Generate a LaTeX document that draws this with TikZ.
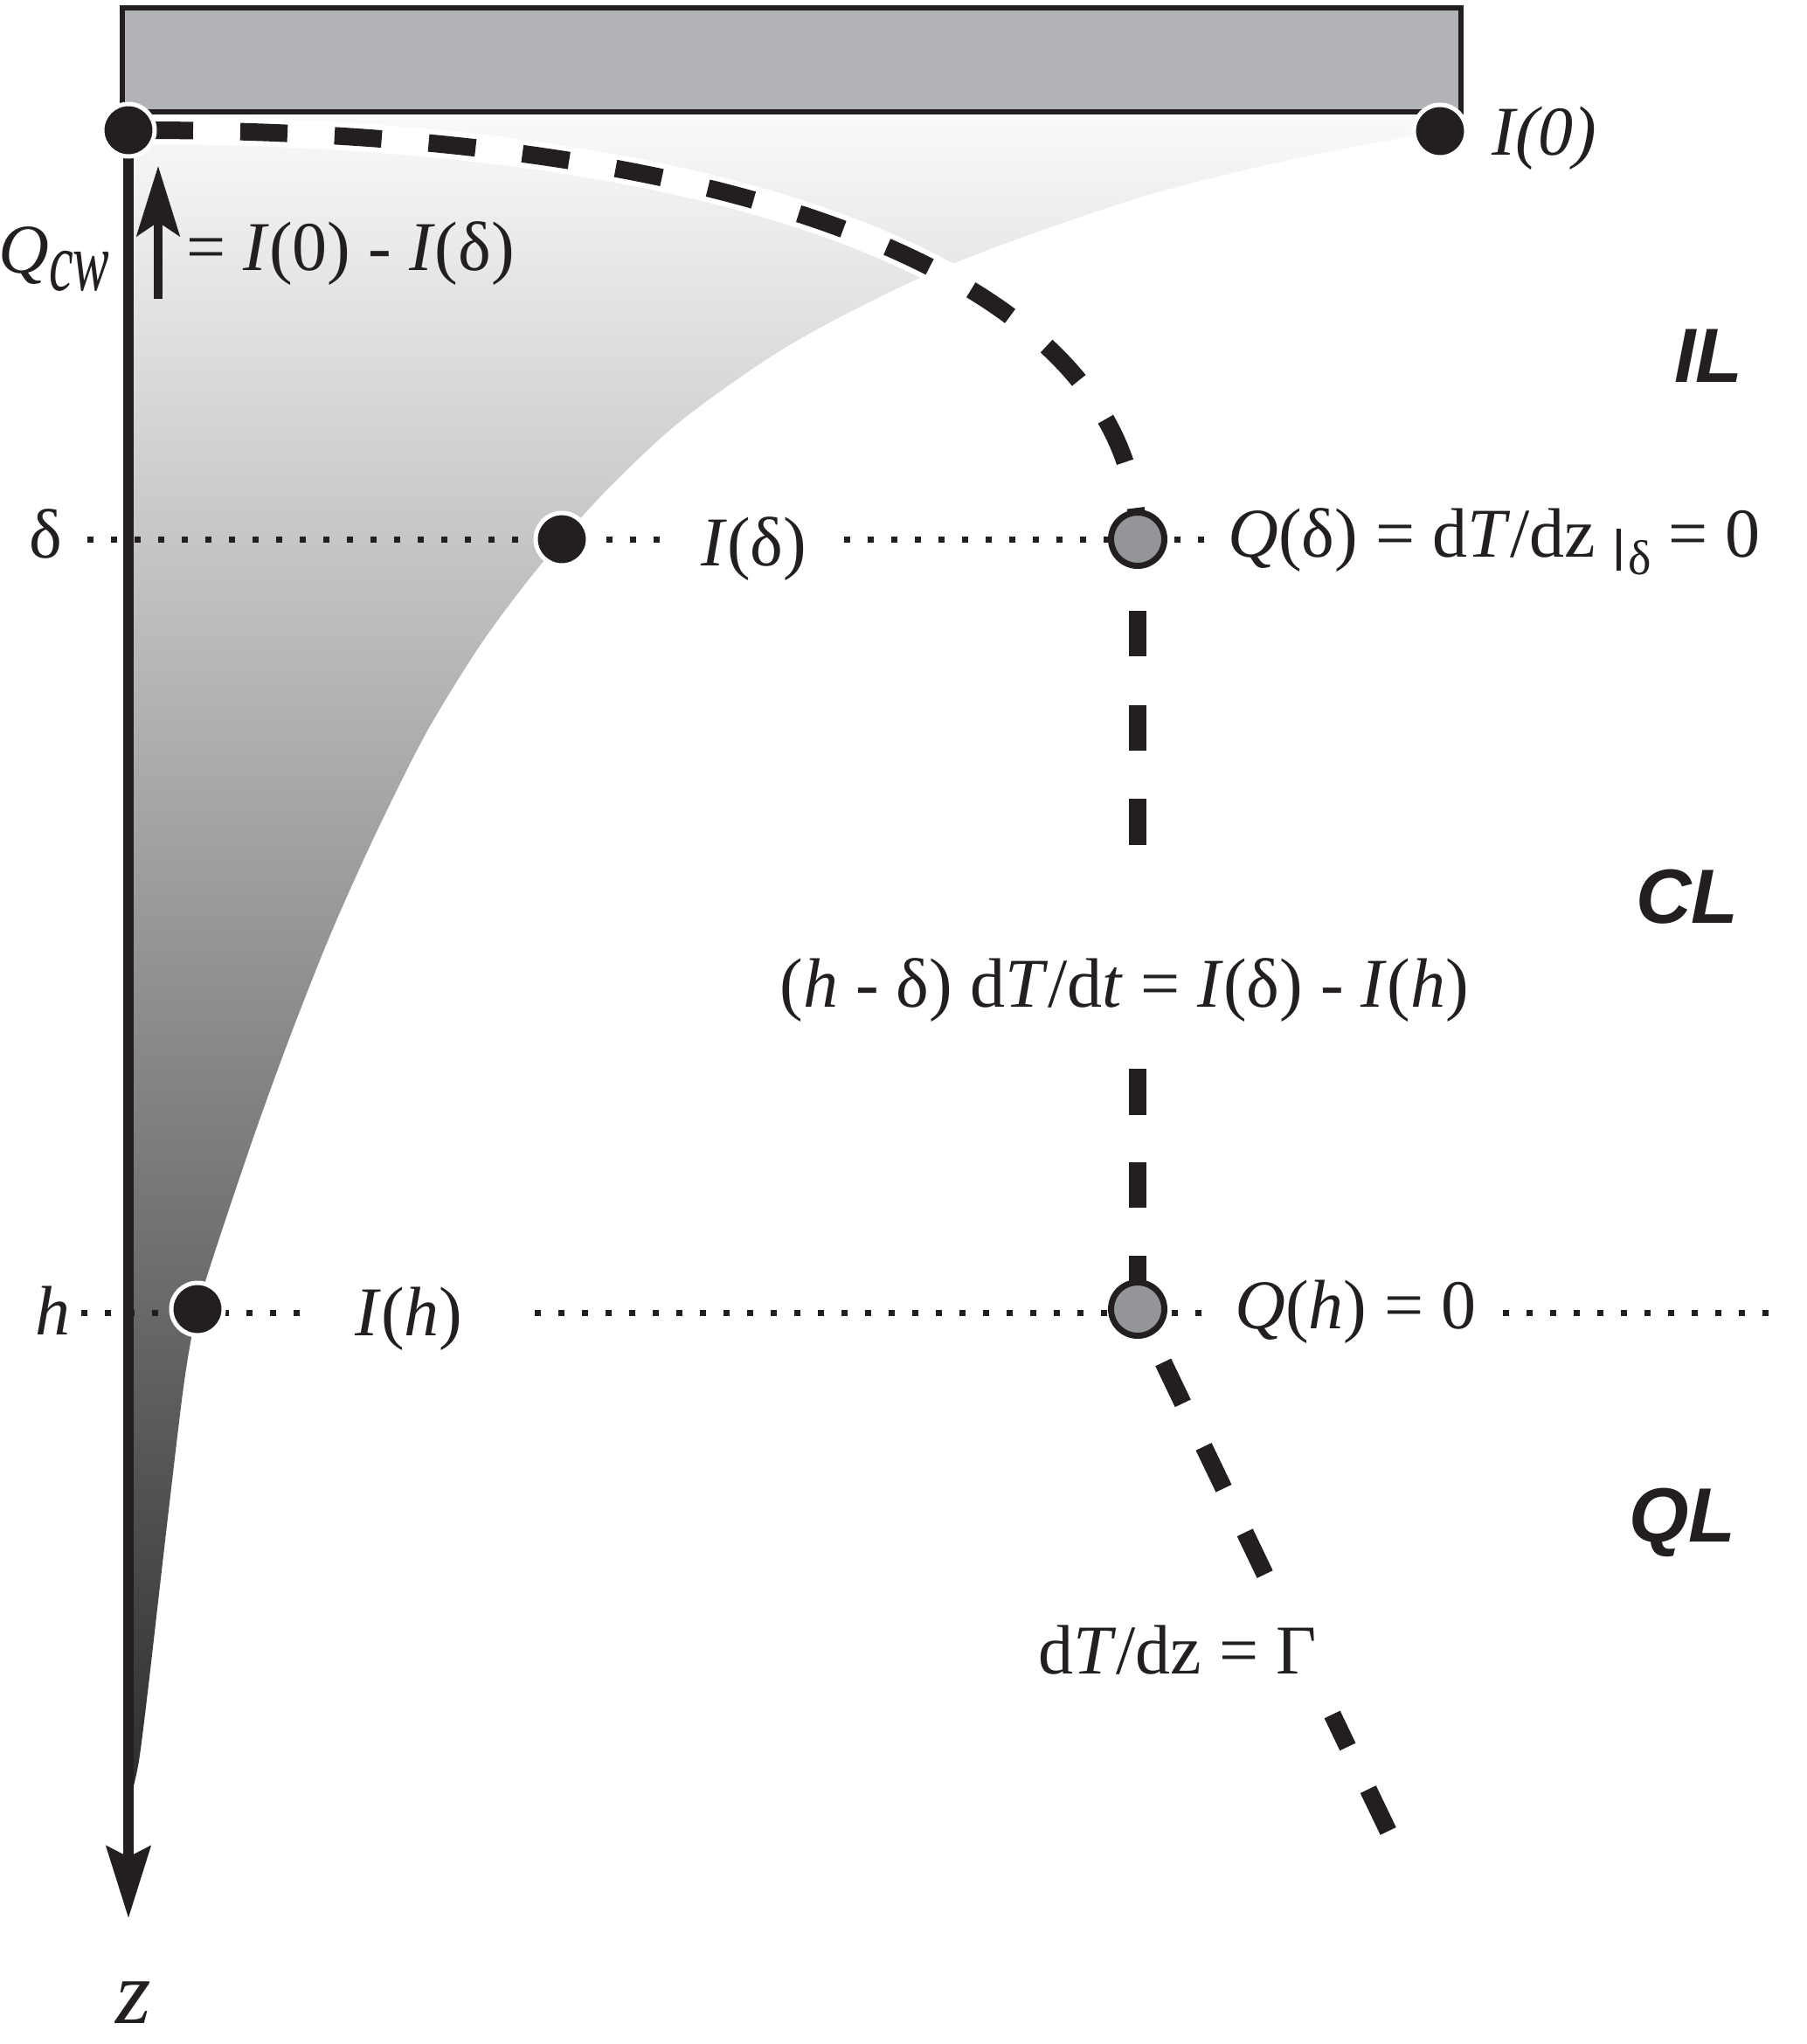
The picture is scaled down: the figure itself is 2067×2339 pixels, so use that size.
\documentclass[tikz,border=0pt]{standalone}
\usepackage{fontspec}
\setmainfont{Liberation Serif}
\newfontfamily\labsans{Liberation Sans}
\usetikzlibrary{arrows.meta,backgrounds}
\definecolor{ink}{RGB}{35,31,32}
\definecolor{plategray}{RGB}{177,179,182}
\definecolor{dotgray}{RGB}{147,149,152}
\definecolor{gtop}{RGB}{250,250,250}
\definecolor{gbot}{RGB}{45,45,47}
\begin{document}
\begin{tikzpicture}[x=0.5pt,y=-0.5pt,
  lab/.style={anchor=base west, inner sep=0pt, text=ink, font=\fontsize{40pt}{48pt}\selectfont},
  zone/.style={anchor=base west, inner sep=0pt, text=ink, font=\fontsize{44pt}{50pt}\selectfont\labsans\bfseries\itshape},
  bdot/.style={circle, fill=ink, draw=white, line width=2.5pt, minimum size=30pt, inner sep=0pt},
  gdot/.style={circle, fill=dotgray, draw=ink, line width=3.5pt, minimum size=30.5pt, inner sep=0pt},
  dotl/.style={draw=ink, line width=3.5pt, dash pattern=on 3.5pt off 10pt},
  thickdash/.style={draw=ink, line width=10pt},
]
\useasboundingbox (0,0) rectangle (2067,2339);

% plate
\node[draw=ink, fill=plategray, line width=3pt, minimum width=766pt, minimum height=59.5pt, inner sep=0pt] (plate) at (905.5,68.5) {};

% dots
\node[bdot] (d0) at (147,149) {};
\node[bdot] (d1) at (1648,150) {};
\node[bdot] (dd) at (643,617) {};
\node[bdot] (dh) at (226,1498) {};
\node[gdot] (gd) at (1302,617) {};
\node[gdot] (gh) at (1302,1498) {};
\coordinate (zend) at (147,2195);
\coordinate (send) at (1589,2096);
\coordinate (qa) at (181,342);
\coordinate (qb) at (181,190);
\coordinate (da1) at (100,617);
\coordinate (da2) at (762,617);
\coordinate (db1) at (966,617);
\coordinate (db2) at (1385,617);
\coordinate (ha1) at (93,1502);
\coordinate (ha2) at (345,1502);
\coordinate (hb1) at (612,1502);
\coordinate (hb2) at (1378,1502);
\coordinate (hc1) at (1720,1502);
\coordinate (hc2) at (2027,1502);

% labels
\node[lab] (qcw) at (-2,312) {\textit{Q}\raisebox{-10pt}{\scalebox{0.65}[1]{\fontsize{48pt}{50pt}\selectfont\textit{cw}}}};
\node[lab] (qeq) at (213,309) {= \textit{I}(0) - \textit{I}(δ)};
\node[lab] (i0) at (1707,177) {\textit{I(0)}};
\node[lab] (dl) at (33,638) {δ};
\node[lab] (idl) at (802,647) {\textit{I}(δ)};
\node[lab] (qdl) at (1405,637) {\textit{Q}(δ) = d\textit{T}/dz\hspace{0.3em}\rule[-8pt]{2.5pt}{24pt}\hspace{4pt}\raisebox{-10pt}{\fontsize{28pt}{30pt}\selectfont δ} = 0};
\node[zone] (il) at (1916,437) {IL};
\node[zone] (cl) at (1872,1056) {CL};
\node[zone] (ql) at (1864,1764) {QL};
\node[lab] (bal) at (892,1152) {(\textit{h} - δ) d\textit{T}/d\textit{t} = \textit{I}(δ) - \textit{I}(\textit{h})};
\node[lab] (hl) at (40,1527) {\textit{h}};
\node[lab] (ihl) at (406,1528) {\textit{I}(\textit{h})};
\node[lab] (qhl) at (1413,1520) {\textit{Q}(\textit{h}) = 0};
\node[lab] (gam) at (1188,1915) {d\textit{T}/dz = Γ};
\node[lab, font=\fontsize{52pt}{56pt}\selectfont] (zl) at (132,2315) {\textit{z}};

\begin{scope}[on background layer]
  \shade[top color=gtop, bottom color=gbot]
    (147,128) -- (1648,128) -- (1648,150)
    -- plot[smooth, tension=0.5] coordinates {(1648,150) (1489,180) (1301,227) (1080,306) (910,391) (785,477) (705,550) (643,617) (592,680) (545,745) (487,840) (430,954) (380,1065) (335,1178) (294,1290) (250,1420) (226,1498) (211,1580) (192,1737) (170,1928) (159,2015) (150,2055)}
    -- (147,2055) -- cycle;
  \draw[white, line width=16pt] (d0.center) .. controls (863,147) and (1302,326) .. (gd.center);
  \draw[thickdash, dash pattern=on 27pt off 27pt, dash phase=44pt] (d0.center) .. controls (863,147) and (1302,326) .. (gd.center);
  \draw[thickdash, dash pattern=on 26pt off 28pt on 26pt off 27.5pt on 26.5pt off 128pt on 26.5pt off 27pt on 26pt off 27.5pt on 40pt off 41pt, dash phase=409pt] (gd.center) -- (gh.center);
  \draw[thickdash, dash pattern=on 26pt off 27.5pt on 26.5pt off 28pt on 26.5pt off 89pt on 20.5pt off 27pt on 26.5pt off 33.8pt, dash phase=297.5pt] (gh.center) -- (send);
  \draw[dotl] (da1) -- (da2);
  \draw[dotl] (db1) -- (db2);
  \draw[dotl] (ha1) -- (ha2);
  \draw[dotl] (hb1) -- (hb2);
  \draw[dotl] (hc1) -- (hc2);
  \draw[ink, line width=6pt, -{Stealth[length=41pt,width=25pt,inset=6pt]}] (d0.center) -- (zend);
  \draw[ink, line width=5pt, -{Stealth[length=40pt,width=24.5pt,inset=8pt]}] (qa) -- (qb);
\end{scope}
\end{tikzpicture}
\end{document}
